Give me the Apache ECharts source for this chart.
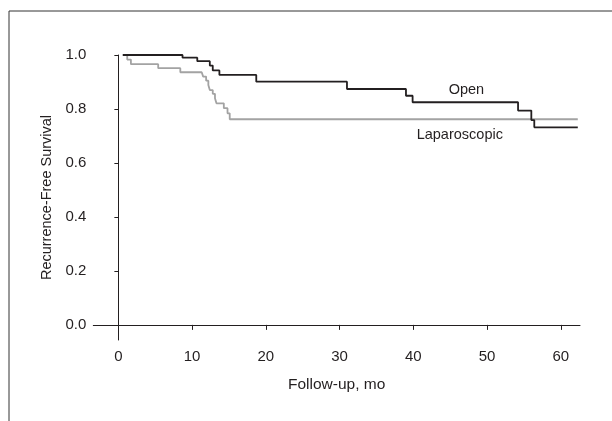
<!DOCTYPE html>
<html>
<head>
<meta charset="utf-8">
<script src="https://cdn.jsdelivr.net/npm/echarts@6/dist/echarts.min.js"></script>
<style>
html,body{margin:0;padding:0;background:#fff;}
#chart{width:612px;height:421px;}
</style>
</head>
<body>
<div id="chart"></div>
<script>
// Kaplan-Meier step data (time in months, survival proportion)
const openTime = [0.6, 8.7, 10.7, 12.4, 12.8, 13.7, 18.7, 31.0, 39.0, 39.9, 54.2, 56.0, 56.4, 62.3];
const openSurv = [1.0, 0.990, 0.977, 0.961, 0.943, 0.926, 0.901, 0.874, 0.849, 0.825, 0.794, 0.759, 0.732, 0.732];
const lapTime = [0.6, 1.2, 1.7, 5.4, 8.4, 11.3, 11.5, 11.9, 12.2, 12.4, 12.8, 13.1, 13.3, 14.3, 14.8, 15.1, 62.3];
const lapSurv = [1.0, 0.983, 0.966, 0.951, 0.936, 0.936, 0.920, 0.905, 0.889, 0.870, 0.856, 0.840, 0.821, 0.803, 0.784, 0.762, 0.762];
const xTicks = [0, 10, 20, 30, 40, 50, 60];
const yTicks = [0, 0.2, 0.4, 0.6, 0.8, 1.0];
const seriesNames = ['Open', 'Laparoscopic'];
const labelPos = [[47.2, 0.872], [46.3, 0.705]];

const FONT = '"Liberation Sans Narrow", "Arial Narrow", "Liberation Sans", sans-serif';
const INK = '#231f20';

function pairs(t, s) { return t.map((v, i) => [v, s[i]]); }

const chart = echarts.init(document.getElementById('chart'), null, {renderer: 'canvas'});
chart.setOption({
  animation: false,
  backgroundColor: '#fff',
  graphic: [{
    type: 'rect', shape: {x: 9, y: 11, width: 700, height: 500},
    style: {fill: 'none', stroke: '#333', lineWidth: 1}, silent: true
  }],
  grid: {left: 93.3, right: 32, top: 55, bottom: 81, containLabel: false},
  xAxis: {
    type: 'value', min: -3.4, max: 62.6,
    name: 'Follow-up, mo', nameLocation: 'middle', nameGap: 37,
    nameTextStyle: {fontFamily: FONT, fontSize: 15.5, color: INK},
    axisLine: {show: true, lineStyle: {color: INK, width: 1}},
    axisTick: {show: true, length: 5, customValues: xTicks, lineStyle: {color: INK}},
    axisLabel: {customValues: xTicks, fontFamily: FONT, fontSize: 15, color: INK, margin: 9},
    splitLine: {show: false}
  },
  yAxis: {
    type: 'value', min: -0.056, max: 1.0,
    name: 'Recurrence-Free Survival', nameLocation: 'middle', nameGap: 38,
    nameTextStyle: {fontFamily: FONT, fontSize: 14.5, color: INK},
    axisLine: {show: true, lineStyle: {color: INK, width: 1}},
    axisTick: {show: true, length: 4, customValues: yTicks, lineStyle: {color: INK}},
    axisLabel: {customValues: yTicks, fontFamily: FONT, fontSize: 15, color: INK, margin: 7,
      formatter: v => v.toFixed(1)},
    splitLine: {show: false}
  },
  series: [
    {
      name: seriesNames[1], type: 'line', step: 'end', symbol: 'none',
      data: pairs(lapTime, lapSurv),
      lineStyle: {color: '#a3a3a3', width: 1.8},
      markPoint: {symbol: 'circle', symbolSize: 0,
        label: {show: true, formatter: seriesNames[1], fontFamily: FONT, fontSize: 14.5, color: INK, position: 'inside'},
        data: [{coord: labelPos[1]}]}
    },
    {
      name: seriesNames[0], type: 'line', step: 'end', symbol: 'none',
      data: pairs(openTime, openSurv),
      lineStyle: {color: INK, width: 1.8},
      markPoint: {symbol: 'circle', symbolSize: 0,
        label: {show: true, formatter: seriesNames[0], fontFamily: FONT, fontSize: 14.5, color: INK, position: 'inside'},
        data: [{coord: labelPos[0]}]}
    }
  ]
});
</script>
</body>
</html>
